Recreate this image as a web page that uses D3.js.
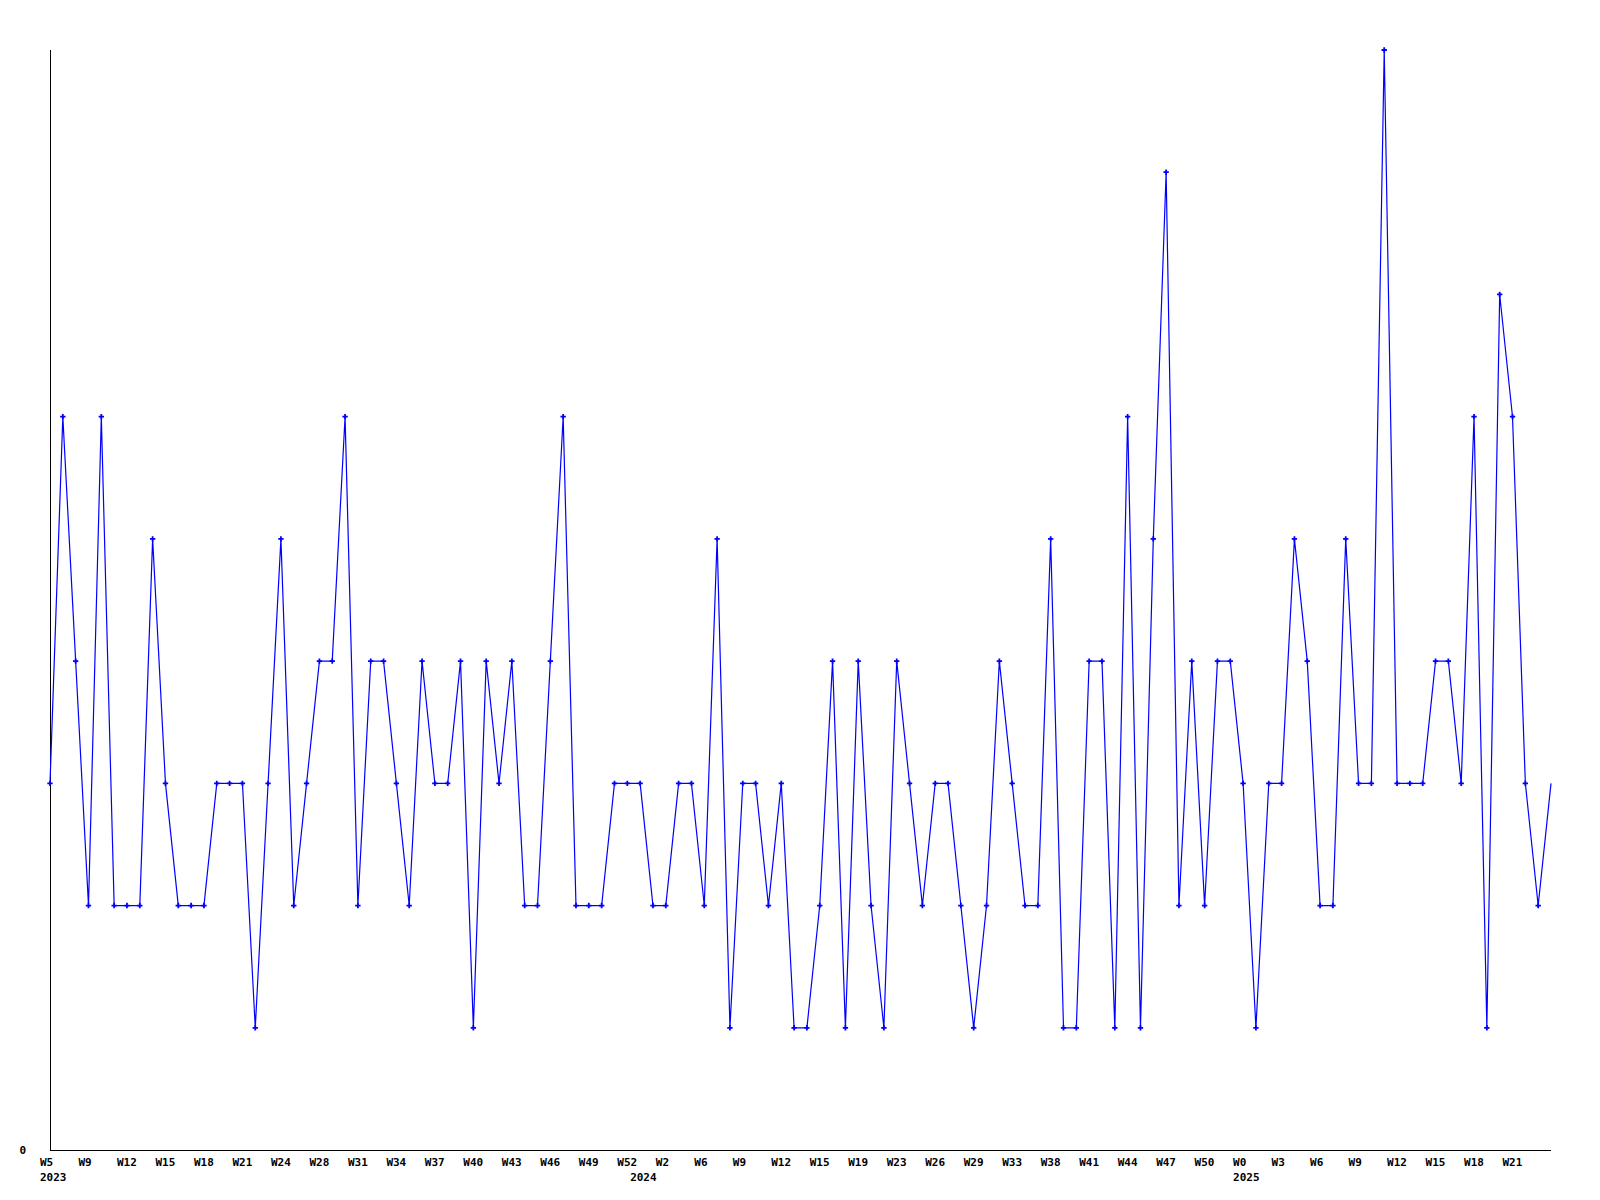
<!DOCTYPE html>
<html>
<head>
<meta charset="utf-8">
<script src="https://cdn.jsdelivr.net/npm/d3@7"></script>
<style>
  html, body { margin: 0; padding: 0; background: #fff; }
  svg { display: block; }
  text { font-family: "DejaVu Sans Mono", "Liberation Mono", monospace; font-weight: bold; font-size: 11px; fill: #000; }
</style>
</head>
<body>
<svg id="chart" width="1600" height="1200"></svg>
<script>
// Weekly values (2023 W5 .. 2025 W2x)
const values = [
  3,6,4,2,6,2,2,2,5,3, 2,2,2,3,3,3,1,3,5,2,
  3,4,4,6,2,4,4,3,2,4, 3,3,4,1,4,3,4,2,2,4,
  6,2,2,2,3,3,3,2,2,3, 3,2,5,1,3,3,2,3,1,1,
  2,4,1,4,2,1,4,3,2,3, 3,2,1,2,4,3,2,2,5,1,
  1,4,4,1,6,1,5,8,2,4, 2,4,4,3,1,3,3,5,4,2,
  2,5,3,3,9,3,3,3,4,4, 3,6,1,7,6,3,2,3
];
// x tick labels, one every 3rd week
const tickLabels = [
  "W5","W9","W12","W15","W18","W21","W24","W28","W31","W34","W37","W40","W43","W46","W49","W52",
  "W2","W6","W9","W12","W15","W19","W23","W26","W29","W33","W38","W41","W44","W47","W50",
  "W0","W3","W6","W9","W12","W15","W18","W21"
];
const tickStep = 3;
// year labels and the week index where each year starts
const yearLabels = ["2023","2024","2025"];
const yearStartIndex = [0, 46, 93];
const yTickValues = [0];

(function () {
const svg = d3.select("#chart");
const mLeft = 50, mRight = 1551, mTop = 50, mBottom = 1150;

const x = d3.scaleLinear().domain([0, values.length - 1]).range([mLeft, mRight]);
const y = d3.scaleLinear().domain([0, 9]).range([mBottom, mTop]);

// axes lines
svg.append("line").attr("x1", mLeft + 0.5).attr("x2", mLeft + 0.5).attr("y1", mTop).attr("y2", mBottom + 0.5)
  .attr("stroke", "#000").attr("stroke-width", 1);
svg.append("line").attr("x1", mLeft).attr("x2", mRight).attr("y1", mBottom + 0.5).attr("y2", mBottom + 0.5)
  .attr("stroke", "#000").attr("stroke-width", 1);

// y labels
svg.selectAll("text.ylab").data(yTickValues).enter().append("text")
  .attr("class", "ylab")
  .attr("x", mLeft - 24)
  .attr("y", d => y(d) + 4)
  .attr("text-anchor", "end")
  .text(d => d);

// x tick labels
svg.selectAll("text.xlab").data(tickLabels).enter().append("text")
  .attr("class", "xlab")
  .attr("x", (d, i) => x(i * tickStep) - 10)
  .attr("y", 1166)
  .attr("text-anchor", "start")
  .text(d => d);

// year labels
svg.selectAll("text.year").data(yearLabels).enter().append("text")
  .attr("class", "year")
  .attr("x", (d, i) => x(yearStartIndex[i]) - 10)
  .attr("y", 1181)
  .attr("text-anchor", "start")
  .text(d => d);

// line
const line = d3.line().x((d, i) => x(i)).y(d => y(d));
svg.append("path").datum(values)
  .attr("d", line)
  .attr("fill", "none")
  .attr("stroke", "#0000ff")
  .attr("stroke-width", 1.2);

// markers (last point has none in the reference)
const sym = d3.symbol().type(d3.symbolCross).size(16);
svg.selectAll("path.mk").data(values.slice(0, -1)).enter().append("path")
  .attr("class", "mk")
  .attr("transform", (d, i) => `translate(${x(i)},${y(d)})`)
  .attr("d", sym)
  .attr("fill", "#0000ff");
})();
</script>
</body>
</html>
